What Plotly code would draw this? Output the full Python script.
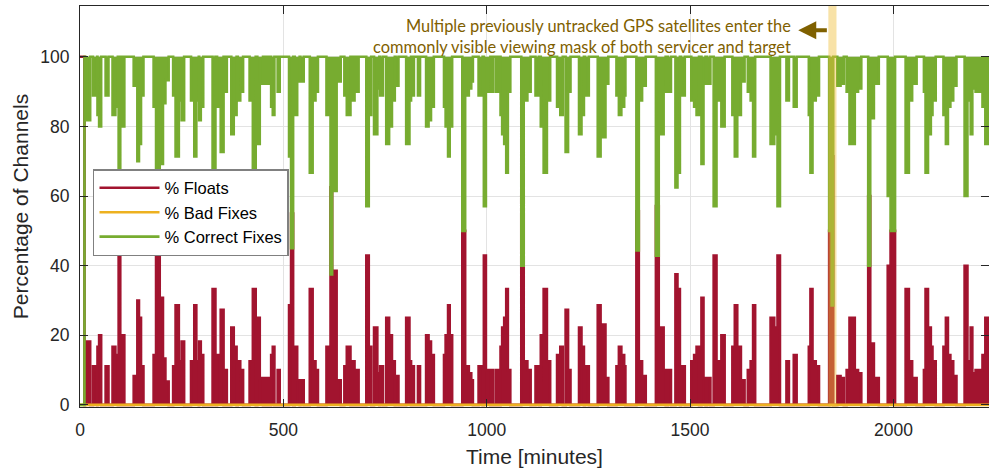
import numpy as np
import plotly.graph_objects as go

# Carrier-phase ambiguity status of the relative-navigation channels over the run.
# All channels float during the initial acquisition, afterwards floats come in bursts.
acq_end_min = 11
run_end_min = 2260

# float bursts: start / end [min] and percentage of channels with float ambiguities
burst_start = [
    13, 32, 37, 43, 47, 63, 80, 87, 95, 104, 132, 141, 145, 150,
    181, 187, 196, 204, 210, 229, 235, 243, 250, 273, 281, 286, 293, 297,
    326, 337, 346, 355, 372, 378, 388, 394, 417, 425, 436, 442, 451, 458,
    470, 474, 486, 514, 519, 528, 534, 542, 565, 572, 579,
    606, 616, 620, 624, 631, 650, 656, 669, 680, 704, 710, 723, 731, 738,
    753, 760, 767, 776, 802, 810, 816, 831, 851, 857, 863,
    895, 899, 905, 909, 940, 947, 956, 962, 980, 993, 998, 1011, 1022,
    1034, 1038, 1043, 1048, 1052, 1085, 1091, 1100, 1120, 1133, 1140, 1148,
    1173, 1181, 1194, 1200, 1227, 1233, 1242, 1273, 1280, 1286, 1292,
    1319, 1325, 1331, 1338, 1368, 1374, 1382, 1416, 1423, 1435, 1445,
    1464, 1469, 1478, 1503, 1510, 1516, 1528, 1533, 1542, 1558, 1565, 1577,
    1604, 1610, 1616, 1625, 1642, 1649, 1655, 1698, 1707, 1715, 1737, 1755,
    1792, 1796, 1801, 1809, 1842, 1848, 1862, 1870, 1885, 1892, 1905, 1913,
    1938, 1943, 1952, 1986, 1993, 2030, 2038, 2046,
    2075, 2079, 2085, 2092, 2096, 2123, 2129, 2134, 2140, 2147,
    2175, 2182, 2190, 2194, 2202, 2219, 2226,
]
burst_end = [
    25, 37, 42, 47, 52, 70, 87, 93, 99, 109, 141, 145, 150, 156,
    187, 196, 204, 210, 218, 235, 243, 250, 256, 281, 286, 292, 297, 303,
    333, 346, 353, 361, 378, 385, 394, 401, 425, 432, 442, 450, 457, 464,
    474, 478, 491, 519, 524, 534, 540, 550, 572, 579, 585,
    616, 620, 624, 631, 641, 656, 665, 675, 685, 710, 716, 731, 736, 745,
    760, 767, 774, 783, 810, 814, 821, 836, 857, 863, 870,
    899, 905, 909, 915, 947, 956, 962, 966, 990, 998, 1009, 1015, 1028,
    1038, 1043, 1048, 1052, 1058, 1091, 1100, 1108, 1128, 1140, 1148, 1156,
    1181, 1187, 1200, 1206, 1233, 1239, 1251, 1280, 1286, 1292, 1299,
    1325, 1331, 1338, 1341, 1374, 1382, 1391, 1423, 1435, 1440, 1453,
    1469, 1475, 1487, 1510, 1516, 1522, 1533, 1538, 1550, 1565, 1577, 1585,
    1610, 1616, 1625, 1634, 1649, 1655, 1660, 1707, 1715, 1721, 1743, 1762,
    1796, 1801, 1809, 1817, 1848, 1852, 1870, 1878, 1892, 1905, 1913, 1921,
    1943, 1952, 1964, 1993, 2004, 2038, 2046, 2057,
    2079, 2085, 2092, 2096, 2104, 2129, 2134, 2140, 2147, 2155,
    2182, 2190, 2194, 2202, 2219, 2226, 2240,
]
burst_pct = [
    18.2, 11.1, 10.0, 16.7, 20.0, 11.1, 16.7, 14.3, 42.9, 20.0, 8.3, 30.0, 25.0, 11.1,
    14.3, 55.0, 30.8, 13.3, 6.7, 11.1, 28.6, 12.5, 18.2, 12.5, 28.6, 12.5, 18.2, 14.3,
    33.3, 14.3, 27.3, 10.0, 22.2, 16.7, 12.5, 10.0, 12.5, 33.3, 25.0, 7.7, 7.7, 7.7,
    14.3, 16.7, 10.0, 28.6, 55.0, 16.7, 7.1, 7.1, 33.3, 12.5, 10.0,
    16.7, 62.5, 16.7, 38.5, 7.1, 11.1, 16.7, 12.5, 10.0, 42.9, 16.7, 22.2, 9.1, 11.1,
    25.0, 20.0, 12.5, 8.3, 25.0, 12.5, 11.1, 11.1, 20.0, 18.2, 14.3,
    14.3, 20.0, 28.6, 20.0, 50.0, 11.1, 9.1, 7.1, 11.1, 42.9, 10.0, 10.0, 10.0,
    16.7, 22.2, 25.0, 33.3, 10.0, 60.0, 12.5, 10.0, 11.1, 20.0, 33.3, 12.5,
    14.3, 16.7, 27.3, 10.0, 22.2, 16.7, 11.1, 28.6, 12.5, 23.1, 7.7,
    11.1, 16.7, 14.3, 11.1, 55.6, 12.5, 8.3, 57.1, 22.2, 10.0, 10.0,
    37.5, 33.3, 11.1, 12.5, 14.3, 16.7, 30.8, 7.7, 7.7, 42.9, 12.5, 20.0,
    16.7, 28.6, 16.7, 7.1, 10.0, 12.5, 28.6, 25.0, 22.2, 42.9, 12.5, 14.3,
    16.7, 33.3, 12.5, 11.1, 50.0, 71.4, 8.3, 7.7, 10.0, 25.0, 10.0, 9.1,
    60.0, 17.6, 7.7, 40.0, 50.0, 33.3, 12.5, 7.7,
    10.0, 33.3, 22.2, 16.7, 12.5, 16.7, 25.0, 14.3, 12.5, 8.3,
    40.0, 12.5, 22.2, 9.1, 10.0, 14.3, 25.0,
]

x_ticks = [0, 500, 1000, 1500, 2000]
y_ticks = [0, 20, 40, 60, 80, 100]

# event window: new GPS satellites enter the common viewing mask
event_start_min = 1840
event_end_min = 1860

RED = "#A2142F"
ORANGE = "#EDB120"
GREEN = "#77AC30"
TEXT = "#262626"
NOTE = "#7F6000"
FONT = "Arial, Liberation Sans, sans-serif"


def step_series(starts, ends, vals, t0_val, t0_end):
    """Piecewise-constant series (for hv lines) from burst intervals."""
    xs, ys = [0.0], [t0_val]
    prev = float(t0_end)
    for s, e, v in zip(starts, ends, vals):
        if s > prev:
            xs.append(prev)
            ys.append(0.0)
        xs.append(s)
        ys.append(v)
        prev = e
    xs.append(prev)
    ys.append(0.0)
    xs.append(run_end_min)
    ys.append(0.0)
    return np.array(xs, float), np.array(ys, float)


# full float series (acquisition + bursts) and bursts only (for the filled bands)
t_all, floats_all = step_series(burst_start, burst_end, burst_pct, 100.0, acq_end_min)
t_b, floats_b = step_series(burst_start, burst_end, burst_pct, 0.0, 0)
correct_all = 100.0 - floats_all
correct_b = 100.0 - floats_b
bad_all = np.zeros_like(t_all)

fig = go.Figure()

# filled float bursts
fig.add_trace(go.Scatter(x=t_b, y=floats_b, mode="lines", line=dict(shape="hv", width=0, color=RED),
                         fill="tozeroy", fillcolor=RED, showlegend=False, hoverinfo="skip"))
fig.add_trace(go.Scatter(x=t_all, y=floats_all, mode="lines", name="% Floats",
                         line=dict(shape="hv", width=2.6, color=RED)))
fig.add_trace(go.Scatter(x=t_all, y=bad_all, mode="lines", name="% Bad Fixes",
                         line=dict(shape="hv", width=2.6, color=ORANGE)))
# filled correct-fix dips, filled from 100 %
fig.add_trace(go.Scatter(x=t_b, y=np.full_like(t_b, 100.0), mode="lines",
                         line=dict(shape="hv", width=0, color=GREEN), showlegend=False, hoverinfo="skip"))
fig.add_trace(go.Scatter(x=t_b, y=correct_b, mode="lines", line=dict(shape="hv", width=0, color=GREEN),
                         fill="tonexty", fillcolor=GREEN, showlegend=False, hoverinfo="skip"))
fig.add_trace(go.Scatter(x=t_all, y=correct_all, mode="lines", name="% Correct Fixes",
                         line=dict(shape="hv", width=2.6, color=GREEN)))

# highlighted event window
fig.add_shape(type="rect", xref="x", yref="paper", x0=event_start_min, x1=event_end_min, y0=0, y1=1,
              fillcolor="rgba(240,190,60,0.45)", line=dict(width=0), layer="above")

fig.add_annotation(
    xref="x", yref="paper", x=1752, y=0.925, xanchor="right", yanchor="middle", align="right",
    text="Multiple previously untracked GPS satellites enter the<br>commonly visible viewing mask of both servicer and target",
    showarrow=False, font=dict(family="Lato, sans-serif", size=16.4, color=NOTE),
)
fig.add_annotation(
    xref="x", yref="y", axref="x", ayref="y", x=1766, y=107.6, ax=event_start_min, ay=107.6,
    showarrow=True, arrowhead=2, arrowsize=0.9, arrowwidth=4, arrowcolor=NOTE, text="",
)

axis_common = dict(
    ticks="inside", ticklen=8, tickcolor=TEXT, tickwidth=1,
    showline=True, linecolor=TEXT, linewidth=1, mirror="ticks",
    showgrid=True, gridcolor="#e3e3e3", gridwidth=1, zeroline=False,
    tickfont=dict(family=FONT, size=17.5, color=TEXT), automargin=False,
)
fig.update_xaxes(range=[0, 2235], tickvals=x_ticks, ticklabelstandoff=7,
                 title=dict(text="Time [minutes]", font=dict(family=FONT, size=21, color=TEXT), standoff=12),
                 **axis_common)
fig.update_yaxes(range=[-0.6, 114.6], tickvals=y_ticks, ticklabelstandoff=6,
                 title=dict(text="Percentage of Channels", font=dict(family=FONT, size=21, color=TEXT), standoff=5),
                 **axis_common)

fig.update_layout(
    width=989, height=468,
    margin=dict(l=80, r=0, t=6, b=61),
    paper_bgcolor="white", plot_bgcolor="white",
    legend=dict(x=0.0143, y=0.5935, xanchor="left", yanchor="top", bgcolor="white",
                bordercolor="#808080", borderwidth=1.5, font=dict(family=FONT, size=16.5, color="black"),
                itemwidth=60, tracegroupgap=0, traceorder="normal"),
    showlegend=True,
)

fig.write_html("out.html")
